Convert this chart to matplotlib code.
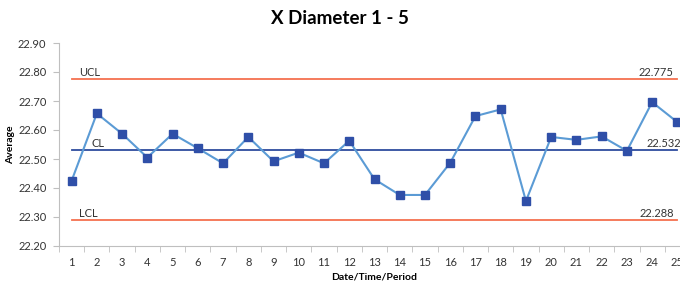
import matplotlib.pyplot as plt

plt.rcParams['font.family'] = ['Lato', 'DejaVu Sans']

periods = list(range(1, 26))
averages = [22.425, 22.657, 22.587, 22.505, 22.587, 22.537, 22.485, 22.576, 22.492, 22.522,
            22.485, 22.563, 22.430, 22.376, 22.376, 22.487, 22.648, 22.671, 22.355, 22.576,
            22.566, 22.578, 22.528, 22.696, 22.627]
ucl = 22.775
cl = 22.532
lcl = 22.288
yticks = [22.20, 22.30, 22.40, 22.50, 22.60, 22.70, 22.80, 22.90]

fig = plt.figure(figsize=(6.8, 2.84), dpi=100)
ax = fig.add_axes([59 / 680, 38 / 284, 631 / 680, 203 / 284])

ax.plot(periods, [ucl] * len(periods), color='#F4714F', lw=1.3)
ax.plot(periods, [lcl] * len(periods), color='#F4714F', lw=1.3)
ax.plot(periods, [cl] * len(periods), color='#2E4C9E', lw=1.3)
ax.plot(periods, averages, color='#5B9BD5', lw=1.5, marker='s', ms=6,
        mfc='#2F4FA8', mec='#2F4FA8', zorder=3)

ax.text(1.3, ucl + 0.004, 'UCL', fontsize=8, color='#333333', va='bottom')
ax.text(1.8, cl + 0.004, 'CL', fontsize=8, color='#333333', va='bottom')
ax.text(1.3, lcl + 0.004, 'LCL', fontsize=8, color='#333333', va='bottom')
ax.text(24.85, ucl + 0.004, '%.3f' % ucl, fontsize=8, color='#333333', va='bottom', ha='right')
ax.text(25.15, cl + 0.004, '%.3f' % cl, fontsize=8, color='#333333', va='bottom', ha='right')
ax.text(24.85, lcl + 0.004, '%.3f' % lcl, fontsize=8, color='#333333', va='bottom', ha='right')

ax.set_xlim(0.5, 25.5)
ax.set_ylim(22.20, 22.90)
ax.set_yticks(yticks)
ax.set_yticklabels(['%.2f' % v for v in yticks])
ax.set_xticks(periods)
ax.set_xticks([p + 0.5 for p in range(0, 25)], minor=True)
ax.tick_params(axis='x', which='major', length=0, pad=8, labelsize=8, colors='#333333')
ax.tick_params(axis='x', which='minor', length=4, color='#BFBFBF')
ax.tick_params(axis='y', length=4, color='#BFBFBF', labelsize=8, labelcolor='#333333', pad=5)

for s in ['top', 'right']:
    ax.spines[s].set_visible(False)
ax.spines['left'].set_color('#BFBFBF')
ax.spines['bottom'].set_color('#BFBFBF')

ax.set_ylabel('Average', fontsize=7.5, fontweight='bold', labelpad=2)
ax.set_xlabel('Date/Time/Period', fontsize=7.5, fontweight='bold', labelpad=3)
fig.text(340 / 680, 1 - 19 / 284, 'X Diameter 1 - 5', fontsize=13.5, fontweight='bold',
         ha='center', va='center')

fig.savefig('out.png', dpi=100)
